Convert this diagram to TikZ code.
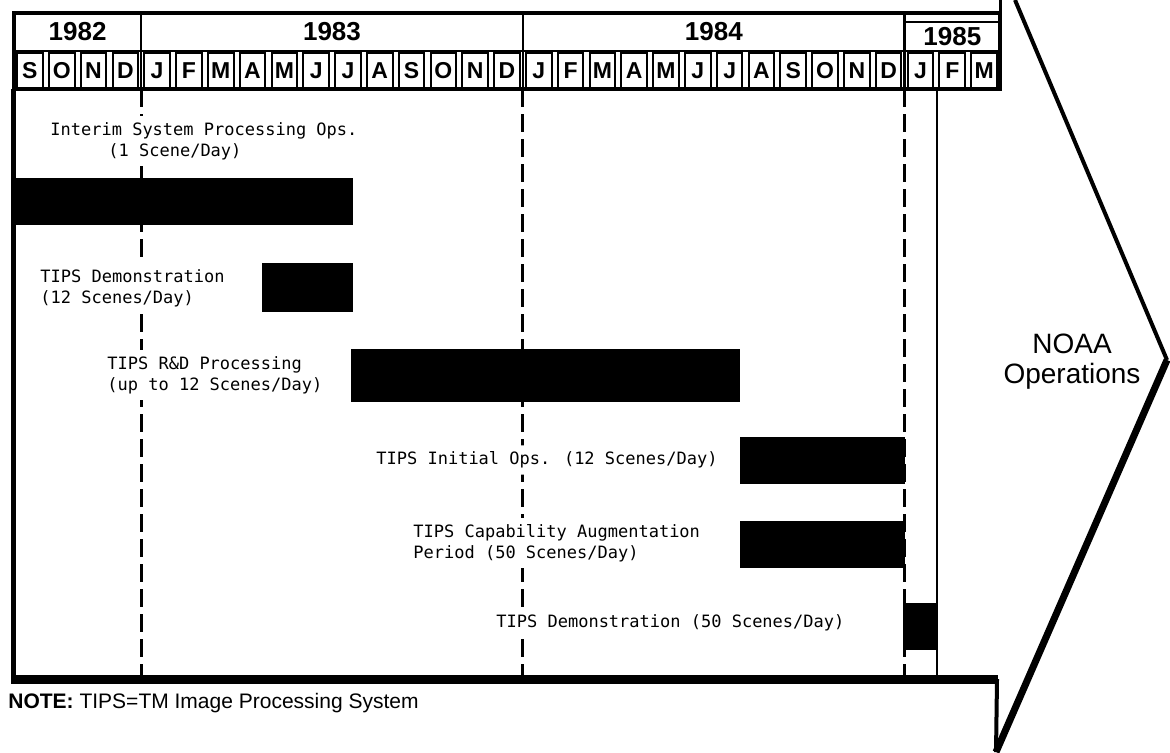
\documentclass[tikz,border=0pt]{standalone}
\usepackage{fontspec}
\setmainfont{Liberation Sans}
\newfontfamily\tipsfont{DejaVu Sans Mono}

\tikzset{
  yearlabel/.style={font=\fontsize{13}{15}\selectfont\bfseries},
  monthcell/.style={draw,line width=1pt,minimum width=12.8pt,minimum height=18pt,inner sep=0pt,font=\fontsize{11.5}{13}\selectfont\bfseries},
  milestone/.style={line width=1.5pt,dash pattern=on 9pt off 3.5pt},
  taskbar/.style={fill=black},
  tasklabel/.style={font=\tipsfont\fontsize{8.5}{10.5}\selectfont,align=left,anchor=west,inner xsep=2pt,inner ysep=3pt},
}

\begin{document}
\begin{tikzpicture}[x=0.5pt,y=-0.5pt]
  \useasboundingbox (0,0) rectangle (1170,752);
  % header: years and months
  \draw[line width=2pt] (14,13) rectangle (1000,89);
  \draw[line width=1.5pt] (1000,0) -- (1000,13);
  \draw[line width=1pt] (14,51) -- (1000,51);
  \draw[line width=1pt] (905,22) -- (1000,22);
  \foreach \x in {141.2,522.9,904.6} \draw[line width=1.2pt] (\x,13) -- (\x,89);
  \node[yearlabel] (y82) at (77.6,32) {1982};
  \node[yearlabel] (y83) at (332,32) {1983};
  \node[yearlabel] (y84) at (713.8,32) {1984};
  \node[yearlabel] (y85) at (952.3,37) {1985};
  \foreach \m [count=\i from 0] in {S,O,N,D,J,F,M,A,M,J,J,A,S,O,N,D,J,F,M,A,M,J,J,A,S,O,N,D,J,F,M}
    \node[monthcell] (m\i) at ({14+(\i+0.5)*31.806},70.5) {\m};

  % labels
  \node[tasklabel] (l1) at (46,141) {Interim System Processing Ops.\\\hspace*{29pt}(1 Scene/Day)};
  \node[tasklabel] (l2) at (36,288) {TIPS Demonstration\\(12 Scenes/Day)};
  \node[tasklabel] (l3) at (103,375) {TIPS R\&D Processing\\(up to 12 Scenes/Day)};
  \node[tasklabel] (l4) at (372,460) {TIPS Initial Ops. (12 Scenes/Day)};
  \node[tasklabel] (l5) at (409,543) {TIPS Capability Augmentation\\Period (50 Scenes/Day)};
  \node[tasklabel] (l6) at (492,623) {TIPS Demonstration (50 Scenes/Day)};

  % year lines, kept clear of the labels
  \begin{scope}[even odd rule]
    \clip (0,0) rectangle (1170,752)
      (l1.south west) rectangle (l1.north east) (l2.south west) rectangle (l2.north east)
      (l3.south west) rectangle (l3.north east) (l4.south west) rectangle (l4.north east)
      (l5.south west) rectangle (l5.north east) (l6.south west) rectangle (l6.north east);
    \foreach \x in {141.2,522.9,904.6} \draw[milestone] (\x,89) -- (\x,676);
  \end{scope}

  % chart frame
  \draw[line width=2.5pt] (13,89) -- (13,679);
  \draw[line width=4.5pt] (11,679) -- (998,679);
  \draw[line width=2pt] (997,679) -- (996,752);
  \draw[line width=1pt] (937,89) -- (937,679);

  % arrow head
  \draw[line width=2pt] (1015,0) -- (1167,360);
  \draw[line width=3.5pt] (1167,360) -- (996,752);

  % bars
  \fill[taskbar] (13,178) rectangle (353,225);
  \fill[taskbar] (262,263) rectangle (353,312);
  \fill[taskbar] (351,349) rectangle (740,402);
  \fill[taskbar] (740,437) rectangle (905,484);
  \fill[taskbar] (740,521) rectangle (905,568);
  \fill[taskbar] (903,603) rectangle (936,650);

  \node[font=\fontsize{14}{15}\selectfont,align=center] (noaa) at (1072,362) {NOAA\\Operations};
  \node[anchor=west,font=\fontsize{10.5}{12}\selectfont,inner sep=0pt] (note) at (8,703) {\textbf{NOTE:} TIPS=TM Image Processing System};
\end{tikzpicture}
\end{document}
